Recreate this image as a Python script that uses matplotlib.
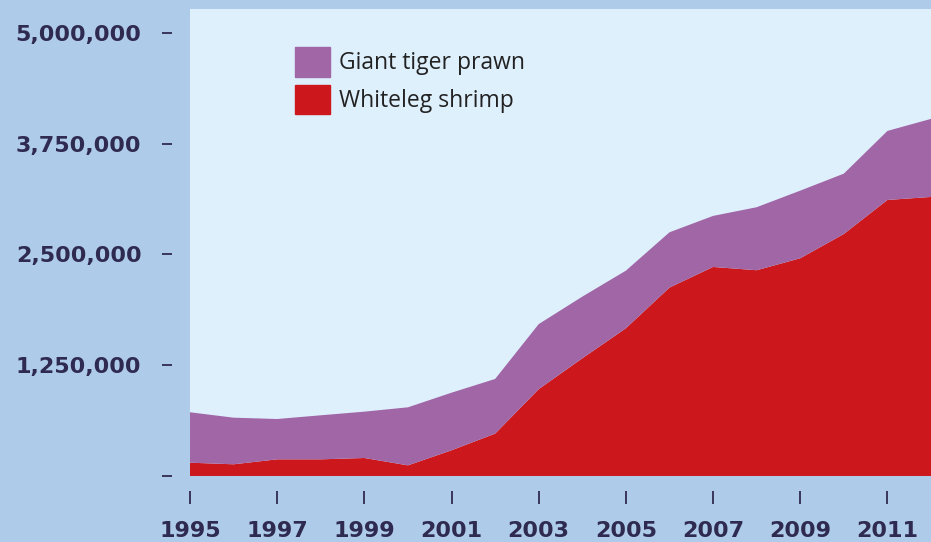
import numpy as np
import matplotlib.pyplot as plt
from matplotlib.ticker import FuncFormatter
from matplotlib.patches import Patch

# years and production (tonnes)
years = [1995, 1996, 1997, 1998, 1999, 2000, 2001, 2002, 2003,
         2004, 2005, 2006, 2007, 2008, 2009, 2010, 2011, 2012]
whiteleg = [150000, 132000, 188000, 188000, 203000, 120000, 290000, 478000, 980000,
            1328000, 1667000, 2126000, 2359000, 2322000, 2457000, 2731000, 3115000, 3149000]
total = [719000, 658000, 643000, 685000, 726000, 775000, 940000, 1095000, 1714000,
         2024000, 2317000, 2750000, 2935000, 3033000, 3220000, 3412000, 3894000, 4030000]
giant_tiger = [t - w for t, w in zip(total, whiteleg)]

x_ticks = [1995, 1997, 1999, 2001, 2003, 2005, 2007, 2009, 2011]
y_ticks = [0, 1250000, 2500000, 3750000, 5000000]

fig_bg = "#afcbea"
ax_bg = "#dff0fd"
purple = "#a066a6"
red = "#cc181c"
text_col = "#2f2a50"

fig = plt.figure(figsize=(9.31, 5.42), dpi=100, facecolor=fig_bg)
ax = fig.add_axes([0.2041, 0.1218, 0.7959, 0.8616])
ax.set_facecolor(ax_bg)

ax.stackplot(years, whiteleg, giant_tiger, colors=[red, purple], linewidth=0)

ax.set_xlim(1995, 2012)
ax.set_ylim(0, 5270000)

for s in ax.spines.values():
    s.set_visible(False)
ax.spines["left"].set_position(("outward", 13))
ax.spines["bottom"].set_position(("outward", 11))

ax.set_xticks(x_ticks)
ax.set_yticks(y_ticks)
ax.yaxis.set_major_formatter(FuncFormatter(lambda v, p: "" if v == 0 else f"{int(v):,}"))

ax.tick_params(axis="y", length=7, width=1.3, color=text_col, pad=15,
               labelsize=16, labelcolor=text_col)
ax.tick_params(axis="x", length=9.5, width=1.3, color=text_col, pad=12,
               labelsize=16, labelcolor=text_col)
for lab in ax.get_xticklabels() + ax.get_yticklabels():
    lab.set_fontfamily("DejaVu Sans")
    lab.set_fontweight("bold")

handles = [Patch(color=purple, label="Giant tiger prawn"),
           Patch(color=red, label="Whiteleg shrimp")]
ax.legend(handles=handles, loc="upper left", bbox_to_anchor=(0.114, 0.962),
          frameon=False, prop={"family": "Open Sans", "size": 16.5},
          handlelength=1.53, handleheight=1.58, handletextpad=0.4,
          labelspacing=0.35, labelcolor="#222222")

fig.savefig("out.png", dpi=100, facecolor=fig_bg)
